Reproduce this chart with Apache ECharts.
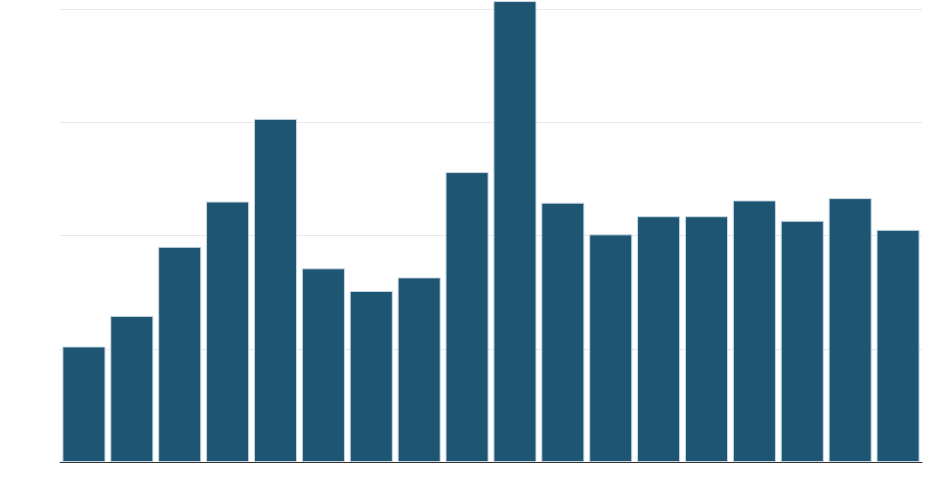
<!DOCTYPE html>
<html>
<head>
<meta charset="utf-8">
<script src="https://cdn.jsdelivr.net/npm/echarts@6/dist/echarts.min.js"></script>
<style>
    html, body { margin: 0; padding: 0; background: #ffffff; }
    #chart { width: 944px; height: 501px; }
</style>
</head>
<body>
<div id="chart"></div>
<script>
    const categories = ['1', '2', '3', '4', '5', '6', '7', '8', '9', '10', '11', '12', '13', '14', '15', '16', '17', '18'];
    const values = [102, 129, 190, 230, 303, 171, 151, 163, 256, 407, 229, 201, 217, 217, 231, 213, 233, 205];
    const yTicks = [0, 100, 200, 300, 400];

    (function () {
        const chart = echarts.init(document.getElementById('chart'));
        const option = {
            animation: false,
            grid: {
                left: 60,
                right: 22,
                top: 9,
                bottom: 39
            },
            xAxis: {
                type: 'category',
                data: categories,
                axisLine: { show: true, lineStyle: { color: '#333333', width: 1 } },
                axisTick: { show: false },
                axisLabel: { show: false }
            },
            yAxis: {
                type: 'value',
                min: yTicks[0],
                max: yTicks[yTicks.length - 1],
                interval: 100,
                axisLine: { show: false },
                axisTick: { show: false },
                axisLabel: { show: false },
                splitLine: { lineStyle: { color: '#e8e8e8', width: 1 } }
            },
            series: [{
                type: 'bar',
                data: values,
                clip: false,
                barCategoryGap: '10%',
                itemStyle: {
                    color: '#1e5573',
                    borderColor: '#c9d8e3',
                    borderWidth: 1
                }
            }]
        };
        chart.setOption(option);
    })();
</script>
</body>
</html>
